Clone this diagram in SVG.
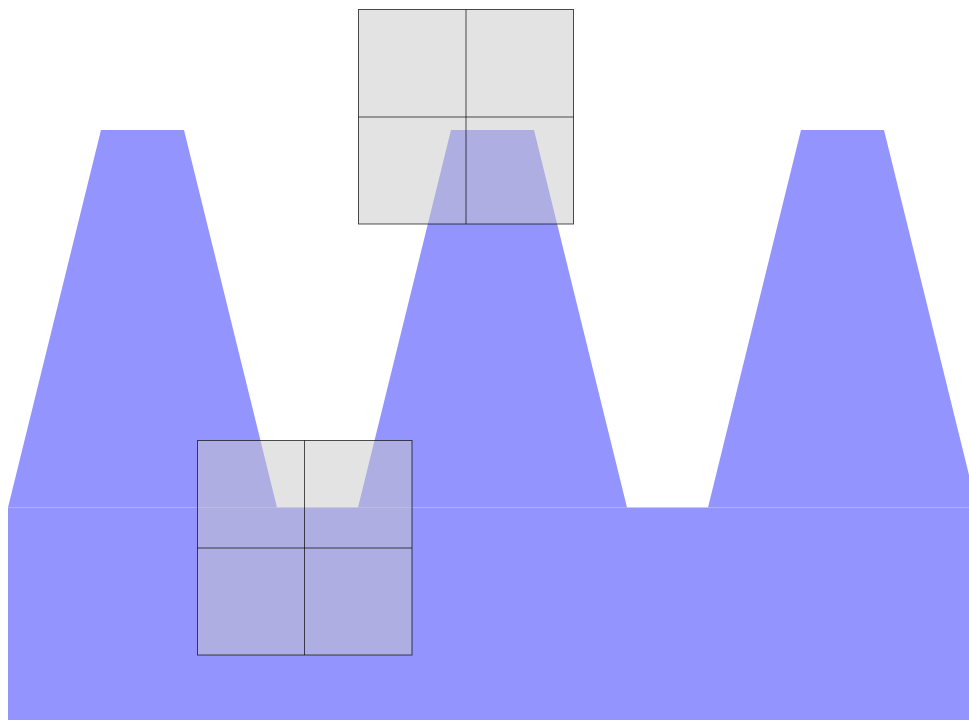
<svg xmlns="http://www.w3.org/2000/svg" width="969" height="720" viewBox="0 0 969 720">
<style>
.blue{fill:#9494ff;stroke:none}
.box{fill:#c8c8c8;fill-opacity:0.5;stroke:none}
.grid{fill:none;stroke:#000;stroke-opacity:0.68;stroke-width:1}
</style>
<rect width="969" height="720" fill="#ffffff"/>
<g id="gear">
<polygon class="blue" points="8,507.5 101,130 184,130 277,507.5 358,507.5 451,130 534,130 627,507.5 708,507.5 801,130 884,130 977,507.5"/>
<rect class="blue" x="8" y="507.5" width="970" height="213"/>
</g>
<g id="cell-top">
<rect class="box" x="358" y="9" width="216" height="215"/>
<rect class="grid" x="358.5" y="9.5" width="215" height="214.5"/>
<line class="grid" x1="466" y1="9.5" x2="466" y2="224"/>
<line class="grid" x1="358.5" y1="117" x2="573.5" y2="117"/>
</g>
<g id="cell-bottom">
<rect class="box" x="197" y="440" width="215" height="215"/>
<rect class="grid" x="197.5" y="440.5" width="214.5" height="214.5"/>
<line class="grid" x1="304.5" y1="440.5" x2="304.5" y2="655"/>
<line class="grid" x1="197.5" y1="548" x2="412" y2="548"/>
</g>
<g id="connectors"></g>
</svg>
